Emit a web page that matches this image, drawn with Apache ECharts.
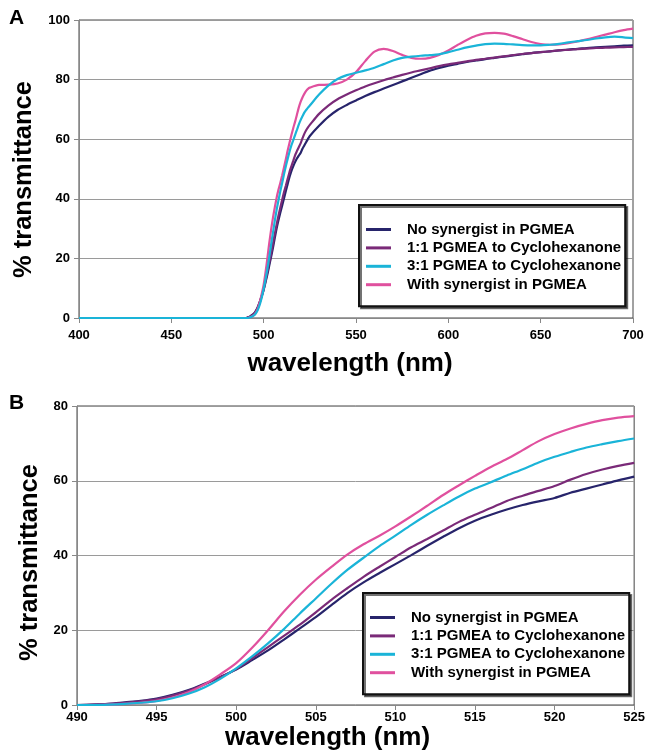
<!DOCTYPE html>
<html><head><meta charset="utf-8">
<script src="https://cdn.jsdelivr.net/npm/echarts@6/dist/echarts.min.js"></script>
<style>html,body{margin:0;padding:0;background:#fff}#c{width:648px;height:755px}</style>
</head><body><div id="c"></div>
<script>
const seriesNames = ['No synergist in PGMEA', '1:1 PGMEA to Cyclohexanone', '3:1 PGMEA to Cyclohexanone', 'With synergist in PGMEA'];
const seriesColors = ['#27246b', '#7a2a78', '#1ab4d8', '#e0509e'];

// flat start (panel A only)
const wlStart = [400];
const startVals = [0];

// 490-525 nm (panel B, also used in A)
const wlB = [490,491,492,493,494,495,496,497,498,499,500,501,502,503,504,505,506,507,508,509,510,511,512,513,514,515,516,517,518,519,520,521,522,523,524,525];
const navyB = [0,0.1,0.3,0.7,1.1,1.7,2.7,4.0,5.7,7.5,9.5,12.0,14.6,17.5,20.5,23.5,26.8,30.0,32.8,35.3,37.7,40.1,42.6,45.0,47.3,49.3,50.9,52.3,53.5,54.5,55.4,56.8,57.9,59.0,60.1,61.1];
const purpleB = [0,0.1,0.3,0.6,1.0,1.5,2.5,3.8,5.5,7.4,9.6,12.5,15.5,18.5,21.5,24.8,28.2,31.3,34.3,37.0,39.6,42.2,44.4,46.7,49.0,50.9,52.7,54.6,56.0,57.3,58.6,60.3,61.8,63.0,64.0,64.8];
const cyanB = [0,0,0.1,0.3,0.6,1.0,1.8,3.0,4.7,7.0,9.8,13.0,16.5,20.3,24.5,28.5,32.5,36.2,39.4,42.5,45.3,48.2,50.9,53.4,55.8,57.9,59.6,61.4,63.1,64.9,66.4,67.7,68.9,69.8,70.6,71.3];
const pinkB = [0,0,0.1,0.3,0.6,1.1,2.0,3.4,5.5,8.2,11.2,15.3,20.0,25.0,29.5,33.5,37.0,40.3,43.0,45.3,47.8,50.5,53.3,56.2,58.8,61.3,63.7,65.8,68.2,70.6,72.5,74.0,75.2,76.2,76.9,77.3];

// 530-700 nm (panel A only)
const wlTail = [530,535,540,545,550,555,560,565,570,575,580,585,590,595,600,605,610,615,620,625,630,635,640,645,650,655,660,665,670,675,680,685,690,695,700];
const navyTail = [64.5,67.5,69.8,71.5,73.0,74.5,75.8,77.0,78.2,79.4,80.6,81.8,83.0,83.9,84.7,85.3,85.9,86.4,86.9,87.3,87.7,88.1,88.5,88.9,89.2,89.5,89.8,90.1,90.3,90.6,90.8,91.0,91.2,91.4,91.5];
const purpleTail = [68.5,71.3,73.4,75.0,76.4,77.7,78.8,79.8,80.7,81.6,82.4,83.1,83.8,84.5,85.1,85.6,86.1,86.6,87.0,87.4,87.8,88.2,88.6,88.9,89.2,89.5,89.8,90.0,90.2,90.4,90.6,90.7,90.8,90.9,91.0];
const cyanTail = [75.0,78.0,80.2,81.5,82.3,83.1,84.0,85.2,86.4,87.3,87.7,88.0,88.2,88.5,89.2,90.0,90.8,91.4,91.9,92.1,92.0,91.8,91.6,91.5,91.5,91.7,92.0,92.5,92.9,93.3,93.8,94.2,94.4,94.2,93.9];
const pinkTail = [78.2,78.3,78.7,80.0,82.5,86.2,89.4,90.3,89.6,88.3,87.3,87.0,87.3,88.3,89.8,91.6,93.3,94.7,95.5,95.7,95.4,94.6,93.6,92.6,91.9,91.7,91.8,92.2,92.8,93.5,94.3,95.1,95.9,96.6,97.1];

const xTicksA = { min: 400, max: 700, step: 50 };
const yTicksA = { min: 0, max: 100, step: 20 };
const xTicksB = { min: 490, max: 525, step: 5 };
const yTicksB = { min: 0, max: 80, step: 20 };

function zip(xs, ys) { return xs.map((x, i) => [x, ys[i]]); }
const bVals = [navyB, purpleB, cyanB, pinkB];
const tailVals = [navyTail, purpleTail, cyanTail, pinkTail];

const FONT = '"Liberation Sans", Arial, Helvetica, sans-serif';
const axisLabelStyle = (m) => ({ color: '#000', fontWeight: 'bold', fontSize: 13, fontFamily: FONT, margin: m });

function xAxis(gi, t, margin, gap, pad) {
  return {
    gridIndex: gi, type: 'value', min: t.min, max: t.max, interval: t.step,
    axisLine: { show: true, lineStyle: { color: '#888', width: 1 } },
    axisTick: { show: true, inside: false, length: 5, lineStyle: { color: '#888' } },
    splitLine: { show: false },
    axisLabel: axisLabelStyle(margin),
    name: 'wavelength (nm)', nameLocation: 'middle', nameGap: gap,
    nameTextStyle: { color: '#000', fontWeight: 'bold', fontSize: 26, fontFamily: FONT, padding: pad }
  };
}
function yAxis(gi, t, gap, pad) {
  return {
    gridIndex: gi, type: 'value', min: t.min, max: t.max, interval: t.step,
    axisLine: { show: true, lineStyle: { color: '#888', width: 1 } },
    axisTick: { show: true, inside: false, length: 5, lineStyle: { color: '#888' } },
    splitLine: { show: true, lineStyle: { color: '#9a9a9a', width: 1 } },
    axisLabel: axisLabelStyle(9),
    name: '% transmittance', nameLocation: 'middle', nameGap: gap, nameRotate: 90,
    nameTextStyle: { color: '#000', fontWeight: 'bold', fontSize: 25.5, fontFamily: FONT, padding: pad }
  };
}

function legend(left, top) {
  return {
    data: seriesNames, orient: 'vertical', left: left, top: top,
    padding: [17, 4, 14, 7], itemGap: 3.4, itemWidth: 25, itemHeight: 3, icon: 'rect',
    backgroundColor: '#fff', borderColor: '#111', borderWidth: 2, borderRadius: 0,
    shadowColor: 'rgba(0,0,0,0.55)', shadowOffsetX: 2, shadowOffsetY: 2, shadowBlur: 0,
    selectedMode: false,
    textStyle: { color: '#000', fontWeight: 'bold', fontSize: 15, lineHeight: 15, fontFamily: FONT, padding: [0, 0, 0, 11] }
  };
}

const series = [];
seriesNames.forEach((name, i) => {
  const z = i === 2 ? 4 : 2 + (i === 3 ? 1 : 0);
  series.push({
    name, type: 'line', xAxisIndex: 0, yAxisIndex: 0, showSymbol: false, smooth: 0.3, z,
    lineStyle: { color: seriesColors[i], width: 2.2 }, itemStyle: { color: seriesColors[i] },
    data: zip(wlStart, startVals).concat(zip(wlB, bVals[i]), zip(wlTail, tailVals[i]))
  });
  series.push({
    name, type: 'line', xAxisIndex: 1, yAxisIndex: 1, showSymbol: false, smooth: 0.3, z,
    lineStyle: { color: seriesColors[i], width: 2.2 }, itemStyle: { color: seriesColors[i] },
    data: zip(wlB, bVals[i])
  });
});

const chart = echarts.init(document.getElementById('c'), null, { renderer: 'canvas' });
chart.setOption({
  animation: false,
  backgroundColor: '#fff',
  grid: [
    { left: 79, top: 20, width: 554, height: 298, show: true, borderColor: '#444', borderWidth: 1, containLabel: false },
    { left: 77, top: 406, width: 560, height: 299, show: true, borderColor: '#444', borderWidth: 1, containLabel: false }
  ],
  xAxis: [xAxis(0, xTicksA, 11, 33, [0, 12, 0, 0]), xAxis(1, xTicksB, 6, 18, [0, 56, 0, 0])],
  yAxis: [yAxis(0, yTicksA, 30, [0, 21, 0, 0]), yAxis(1, yTicksB, 30, [0, 14, 0, 0])],
  legend: [legend(359, 205), legend(363, 593)],
  graphic: [
    { type: 'text', left: 9, top: 8, style: { text: 'A', font: 'bold 21px ' + FONT, fill: '#000' } },
    { type: 'text', left: 9, top: 393, style: { text: 'B', font: 'bold 21px ' + FONT, fill: '#000' } }
  ],
  series
});
</script></body></html>
